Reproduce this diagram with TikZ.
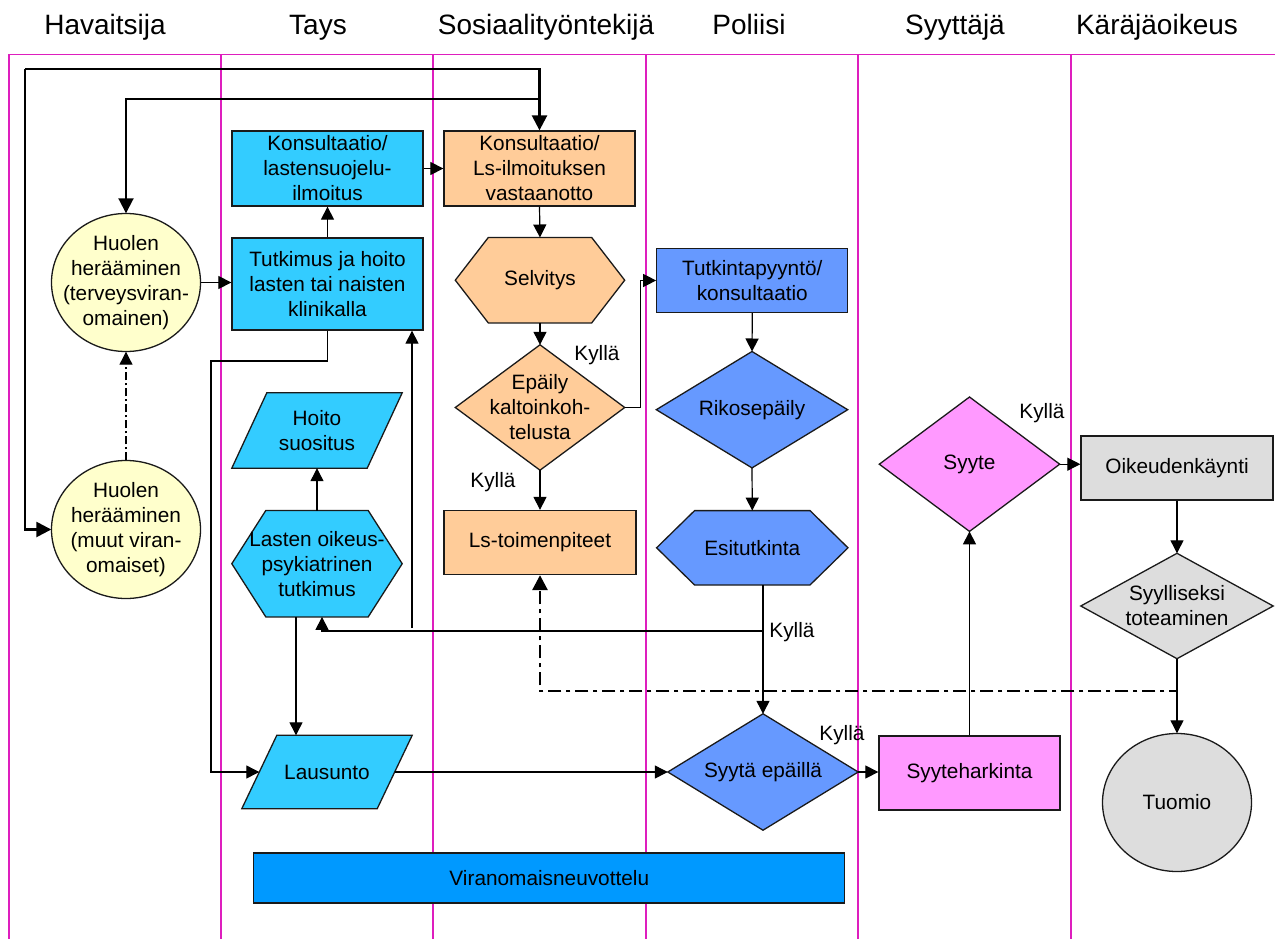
\documentclass[tikz,border=0pt]{standalone}
\usepackage{fontspec}
\setmainfont{Liberation Sans}
\usetikzlibrary{arrows.meta,calc,backgrounds}
\definecolor{lanec}{RGB}{222,30,190}
\definecolor{cyanf}{HTML}{33CCFF}
\definecolor{peach}{HTML}{FFCC99}
\definecolor{pale}{HTML}{FFFFCC}
\definecolor{polb}{HTML}{6699FF}
\definecolor{pinkf}{HTML}{FF99FF}
\definecolor{grayf}{HTML}{DDDDDD}
\definecolor{viranf}{HTML}{0099FF}
\definecolor{edgec}{HTML}{1A1A1A}
\newcommand\myNodeFont{\fontsize{20.8}{25}\selectfont}
\newcommand\myHeadFont{\fontsize{28}{30}\selectfont}
\tikzset{
  lanel/.style={draw=lanec, line width=1.4pt},
  shp/.style={draw=edgec, line width=1.3pt},
  txt/.style={inner sep=0pt, align=center, font=\myNodeFont},
  rbox/.style={txt, draw=edgec, line width=1.3pt, rectangle},
  hdr/.style={inner sep=0pt, anchor=base, font=\myHeadFont},
  arr/.style={-{Triangle[length=13pt,width=13pt]}},
  bigarr/.style={-{Triangle[length=15pt,width=15pt]}},
  cl/.style={line width=1.2pt, draw=black},
  thickc/.style={line width=2.5pt, draw=black},
  medc/.style={line width=1.9pt, draw=black},
  dd/.style={line width=1.1pt, dash pattern=on 8pt off 3pt on 2pt off 3pt},
  thickdd/.style={line width=2.8pt, dash pattern=on 13pt off 5pt on 4pt off 5pt}
}
\begin{document}
\begin{tikzpicture}[x=1pt,y=-1pt]
\useasboundingbox (0,0) rectangle (1275,939);
% headers
\node[hdr] (hA) at (105,35) {Havaitsija};
\node[hdr] (hB) at (318,35) {Tays};
\node[hdr] (hC) at (546,35) {Sosiaalityöntekijä};
\node[hdr] (hD) at (749,35) {Poliisi};
\node[hdr] (hE) at (955,35) {Syyttäjä};
\node[hdr] (hF) at (1157,35) {Käräjäoikeus};

% nodes
\node[rbox, fill=cyanf, minimum width=191pt, minimum height=75pt] (kons1) at (327.5,168.5) {Konsultaatio/\\lastensuojelu-\\ilmoitus};
\node[rbox, fill=peach, minimum width=191pt, minimum height=75pt] (kons2) at (539.5,168.5) {Konsultaatio/\\Ls-ilmoituksen\\vastaanotto};
\node[rbox, fill=cyanf, minimum width=191pt, minimum height=92pt] (tutk) at (327.5,284) {Tutkimus ja hoito\\lasten tai naisten\\klinikalla};
\node[txt, minimum width=149pt, minimum height=138pt] (huol1) at (126,282.5) {Huolen\\herääminen\\(terveysviran-\\omainen)};
\node[txt, minimum width=149pt, minimum height=138pt] (huol2) at (126,529.5) {Huolen\\herääminen\\(muut viran-\\omaiset)};
\node[txt, minimum width=170pt, minimum height=75pt] (hoito) at (317,430.5) {Hoito\\suositus};
\node[txt, minimum width=170pt, minimum height=106pt] (lasten) at (317,563.7) {Lasten oikeus-\\psykiatrinen\\tutkimus};
\node[txt, minimum width=170pt, minimum height=73pt] (laus) at (327,772) {Lausunto};
\node[txt, minimum width=169pt, minimum height=85pt] (selv) at (540,280.2) {Selvitys};
\node[txt, minimum width=169pt, minimum height=125pt] (epaily) at (540,407.5) {Epäily\\kaltoinkoh-\\telusta};
\node[rbox, fill=peach, minimum width=192pt, minimum height=64pt] (lstoim) at (540,542.5) {Ls-toimenpiteet};
\node[rbox, fill=polb, minimum width=191pt, minimum height=64pt] (tpyynto) at (752.3,280.5) {Tutkintapyyntö/\\konsultaatio};
\node[txt, minimum width=191pt, minimum height=116pt] (rikos) at (752,409.7) {Rikosepäily};
\node[txt, minimum width=191pt, minimum height=74pt] (esitut) at (752.3,547.8) {Esitutkinta};
\node[txt, minimum width=190pt, minimum height=116pt] (syyta) at (763,772) {Syytä epäillä};
\node[rbox, fill=pinkf, minimum width=181pt, minimum height=74pt] (syyteh) at (969.5,773) {Syyteharkinta};
\node[txt, minimum width=180pt, minimum height=134pt] (syyte) at (969.5,464.2) {Syyte};
\node[rbox, fill=grayf, minimum width=192pt, minimum height=64pt] (oikeud) at (1177,468) {Oikeudenkäynti};
\node[txt, minimum width=192pt, minimum height=105pt] (syyll) at (1177,606) {Syylliseksi\\toteaminen};
\node[txt, minimum width=149pt, minimum height=138pt] (tuomio) at (1177,802.5) {Tuomio};
\node[rbox, fill=viranf, minimum width=591pt, minimum height=50pt] (viran) at (549.3,878) {Viranomaisneuvottelu};

% labels
\node[txt] (k1) at (597,355) {Kyllä};
\node[txt] (k2) at (493,482) {Kyllä};
\node[txt] (k3) at (792,632) {Kyllä};
\node[txt] (k4) at (842,735) {Kyllä};
\node[txt] (k5) at (1042,413) {Kyllä};

\begin{scope}[on background layer]
  \fill[white] (0,0) rectangle (1275,939);
  % lanes
  \foreach \x in {9,221,433,646,858,1071} \draw[lanel] (\x,54.5) -- (\x,939);
  \draw[lanel] (9,54.5) -- (1275,54.5);
  % ellipses
  \draw[shp, fill=pale] (huol1.center) ellipse [x radius=74.5pt, y radius=69pt];
  \draw[shp, fill=pale] (huol2.center) ellipse [x radius=74.5pt, y radius=69pt];
  \draw[shp, fill=grayf] (tuomio.center) ellipse [x radius=74.5pt, y radius=69pt];
  % parallelograms
  \draw[shp, fill=cyanf] ($(hoito.north west)+(35,0)$) -- (hoito.north east) -- ($(hoito.south east)+(-35,0)$) -- (hoito.south west) -- cycle;
  \draw[shp, fill=cyanf] ($(laus.north west)+(35,0)$) -- (laus.north east) -- ($(laus.south east)+(-35,0)$) -- (laus.south west) -- cycle;
  % hexagons
  \draw[shp, fill=cyanf] (lasten.west) -- ($(lasten.north west)+(34,0)$) -- ($(lasten.north east)+(-34,0)$) -- (lasten.east) -- ($(lasten.south east)+(-34,0)$) -- ($(lasten.south west)+(34,0)$) -- cycle;
  \draw[shp, fill=peach] (selv.west) -- ($(selv.north west)+(33,0)$) -- ($(selv.north east)+(-33,0)$) -- (selv.east) -- ($(selv.south east)+(-33,0)$) -- ($(selv.south west)+(33,0)$) -- cycle;
  \draw[shp, fill=polb] (esitut.west) -- ($(esitut.north west)+(38,0)$) -- ($(esitut.north east)+(-38,0)$) -- (esitut.east) -- ($(esitut.south east)+(-38,0)$) -- ($(esitut.south west)+(38,0)$) -- cycle;
  % diamonds
  \draw[shp, fill=peach] (epaily.west) -- (epaily.north) -- (epaily.east) -- (epaily.south) -- cycle;
  \draw[shp, fill=polb] (rikos.west) -- (rikos.north) -- (rikos.east) -- (rikos.south) -- cycle;
  \draw[shp, fill=polb] (syyta.west) -- (syyta.north) -- (syyta.east) -- (syyta.south) -- cycle;
  \draw[shp, fill=pinkf] (syyte.west) -- (syyte.north) -- (syyte.east) -- (syyte.south) -- cycle;
  \draw[shp, fill=grayf] (syyll.west) -- (syyll.north) -- (syyll.east) -- (syyll.south) -- cycle;
\end{scope}

% helper coordinates
\coordinate (tl) at (25,69);
\coordinate (y99) at (0,99);
\coordinate (y361) at (0,361);
\coordinate (x211) at (211,0);
\coordinate (free1) at (412,628);
\coordinate (y631) at (0,631);
\coordinate (y691) at (0,691);

% connectors
\draw[thickc, bigarr] (tl) -- (tl -| kons2.north) -- (kons2.north);
\draw[thickc, bigarr] (tl) |- (huol2.west);
\draw[medc, bigarr] (kons2.north |- y99) -| (huol1.north);
\draw[cl, arr] (kons1.east) -- (kons2.west);
\draw[cl, arr] (tutk.north) -- (kons1.south);
\draw[cl, arr] (huol1.east) -- (huol1.east -| tutk.west);
\draw[dd, arr] (huol2.north) -- (huol1.south);
\draw[cl, arr] (tutk.south) -- (tutk.south |- y361) -- (x211 |- y361) -- (x211 |- laus.west) -- ($(laus.west)+(17.5,0)$);
\draw[cl, arr] (free1) -- (free1 |- tutk.south);
\draw[cl, arr] (lasten.north) -- (hoito.south);
\draw[cl, arr] ($(lasten.south)+(-21,0)$) -- ($(laus.north)+(-31,0)$);
\draw[cl, arr] (syyta.north |- esitut.south) -- (syyta.north);
\draw[cl, arr] (syyta.north |- y631) -- ($(lasten.south |- y631)+(5,0)$) -- ($(lasten.south)+(5,0)$);
\draw[cl, arr] ($(laus.east)+(-17.5,0)$) -- (syyta.west);
\draw[cl, arr] (syyta.east) -- (syyteh.west |- syyta.east);
\draw[cl, arr] (syyteh.north) -- (syyte.south);
\draw[cl, arr] (syyte.east) -- (oikeud.west |- syyte.east);
\draw[cl, arr] (oikeud.south) -- (syyll.north);
\draw[cl, arr] (syyll.south) -- (tuomio.north);
\draw[thickdd, bigarr] (syyll.south) -- (syyll.south |- y691) -- (lstoim.south |- y691) -- (lstoim.south);
\draw[cl, arr] (epaily.east) -| ($(tpyynto.west)+(-16,0)$) -- (tpyynto.west);
\draw[cl, arr] (epaily.south) -- (lstoim.north);
\draw[cl, arr] (kons2.south) -- (selv.north);
\draw[cl, arr] (selv.south) -- (epaily.north);
\draw[cl, arr] (tpyynto.south) -- (rikos.north);
\draw[cl, arr] (rikos.south) -- (esitut.north);
\end{tikzpicture}
\end{document}
